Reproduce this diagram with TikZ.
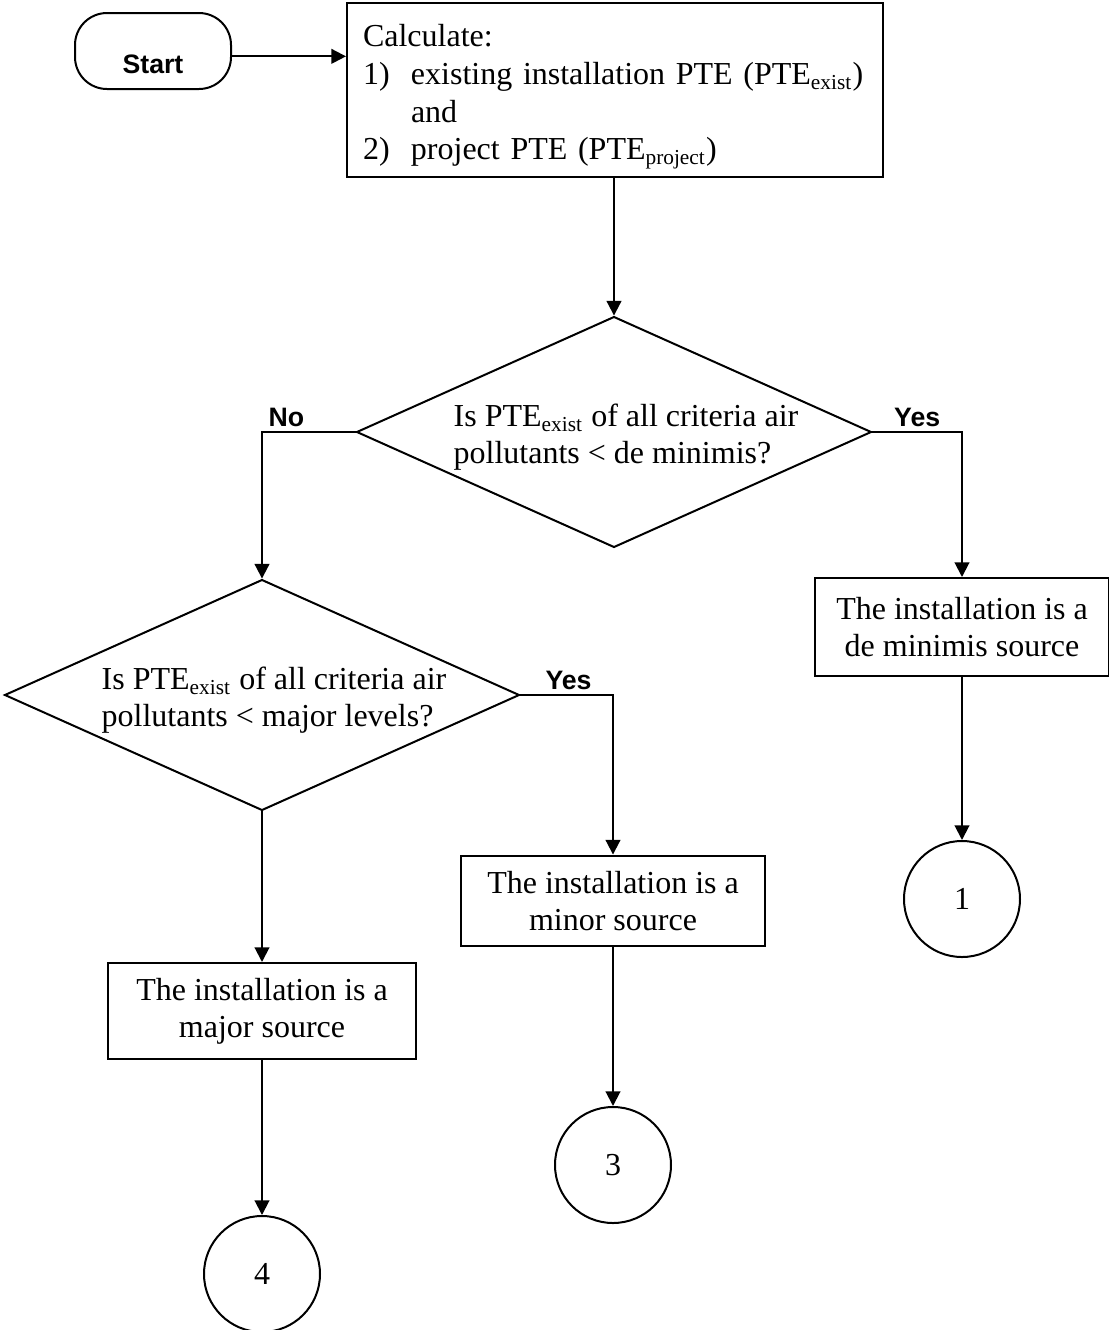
\documentclass[tikz,border=0pt]{standalone}
\usepackage{fontspec}
\setmainfont{Liberation Serif}
\setsansfont{Liberation Sans}
\usetikzlibrary{arrows.meta,positioning,shapes.geometric}
% one line of a decision text, set a little lower and to the right
\newcommand{\qline}[1]{\hspace*{9pt}\raisebox{-2.2pt}[8.2pt][2.6pt]{#1}}

\begin{document}
\begin{tikzpicture}[
    x=0.375pt, y=-0.375pt,
    every node/.style={font=\fontsize{12}{13.8}\selectfont},
    terminal/.style={rectangle, rounded corners=12pt, draw, line width=0.75pt, minimum width=58.5pt, minimum height=28.5pt, font=\fontsize{10}{12}\selectfont\sffamily\bfseries, text height=16.5pt, text depth=0pt},
    process/.style={rectangle, draw, line width=0.75pt, align=center, inner sep=2pt},
    decision/.style={diamond, draw, line width=0.75pt, align=left, inner sep=0pt, shape aspect=2.23, minimum width=191.25pt, minimum height=85.9pt},
    connector/.style={circle, draw, line width=0.75pt, minimum size=43.5pt, inner sep=0pt},
    flow/.style={-{Triangle[length=5.5pt,width=5.5pt]}, line width=0.75pt},
    answer/.style={font=\fontsize{10}{12}\selectfont\sffamily\bfseries, inner sep=1.5pt}
]
\useasboundingbox (0,0) rectangle (1109,1330);

% top row
\node[terminal] (start) at (153,51) {Start};
\node[process, anchor=north west, align=left, text width=189pt, inner xsep=6pt, minimum height=65.25pt, font=\fontsize{12}{14.1}\selectfont] (calc) at (346,2)
    {\rule{0pt}{13.5pt}Calculate:\\
     \makebox[18pt][l]{1)}existing installation PTE (PTE\textsubscript{exist})\\
     \hspace*{18pt}and\\
     \makebox[18pt][l]{2)}project PTE (PTE\textsubscript{project})};

% decisions
\node[decision] (d1) at (614,432) {\qline{Is PTE\textsubscript{exist} of all criteria air}\\\qline{pollutants < de minimis?}};
\node[decision] (d2) at (262,695) {\qline{Is PTE\textsubscript{exist} of all criteria air}\\\qline{pollutants < major levels?}};

% outcomes
\node[process, minimum width=110pt, minimum height=36.75pt] (demin) at (962,627) {The installation is a\\de minimis source};
\node[process, minimum width=114pt, minimum height=34.1pt] (minor) at (613,901) {The installation is a\\minor source};
\node[process, minimum width=115.5pt, minimum height=36pt] (major) at (262,1011) {The installation is a\\major source};

% off-page connectors
\node[connector] (c1) at (962,899) {1};
\node[connector] (c3) at (613,1165) {3};
\node[connector] (c4) at (262,1274) {4};

\draw[flow] ([yshift=-2pt]start.east) -- ([yshift=-2pt]start.east -| calc.west);
\draw[flow] (calc.south -| d1) -- (d1);
\draw[flow] (d1.west) -| node[answer, above, pos=0.37] {No} (d2.north);
\draw[flow] (d1.east) -| node[answer, above, pos=0.25] {Yes} (demin.north);
\draw[flow] (d2.east) -| node[answer, above, pos=0.26] {Yes} (minor.north);
\draw[flow] (d2) -- (major);
\draw[flow] (demin) -- (c1);
\draw[flow] (minor) -- (c3);
\draw[flow] (major) -- (c4);
\end{tikzpicture}
\end{document}
